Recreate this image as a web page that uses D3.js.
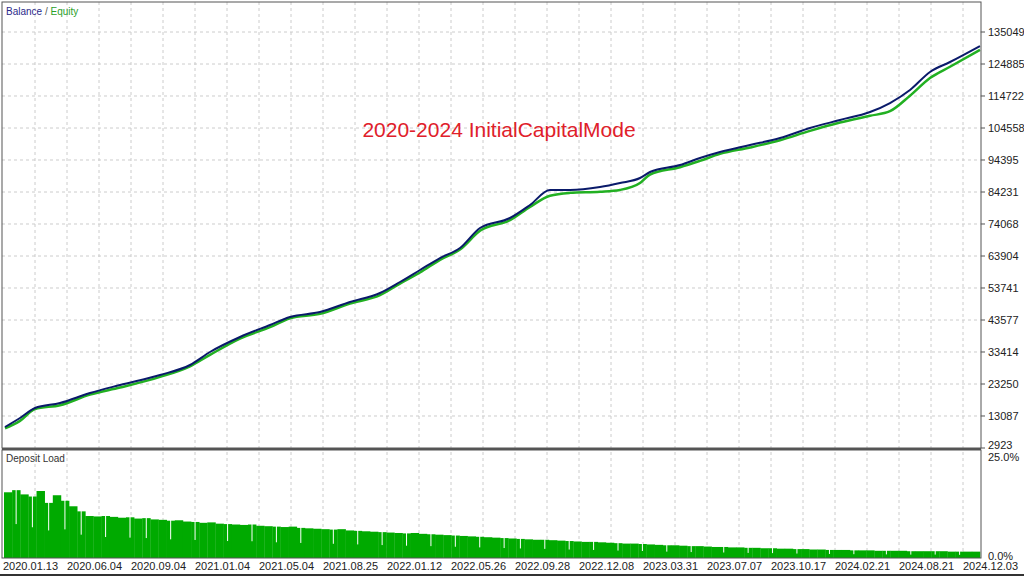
<!DOCTYPE html><html><head><meta charset="utf-8">
<script src="https://cdn.jsdelivr.net/npm/d3@7"></script>
<style>body{margin:0;background:#fff}svg{display:block}text{font-family:"Liberation Sans",sans-serif}</style></head><body>
<svg id="c" width="1024" height="576"></svg>
<script>
const yTicks=[2923,13087,23250,33414,43577,53741,63904,74068,84231,94395,104558,114722,124885,135049];
const dateLabels=["2020.01.13","2020.06.04","2020.09.04","2021.01.04","2021.05.04","2021.08.25","2022.01.12","2022.05.26","2022.09.28","2022.12.08","2023.03.31","2023.07.07","2023.10.17","2024.02.21","2024.08.21","2024.12.03"];
const tradeIdx=[0,15,30,55,85,115,155,185,205,235,265,285,315,345,375,395,415,435,455,475,505,525,545,565,595,615,635,645,675,695,715,745,775,805,835,865,885,905,925,945,975];
const balance=[9593,12451,15627,17215,20391,22932,26108,29284,33413,38177,41988,44529,46117,49293,52151,55645,59456,63267,66443,72795,75971,80100,84864,84864,85817,87087,88675,90581,92804,95027,96932,99156,101379,104555,107096,109637,112495,116624,122341,125517,130598];
const equityDip=[400,900,300,700,500,800,600,400,900,500,700,400,600,500,700,500,800,600,500,900,700,600,1800,900,1500,2200,1600,800,700,900,600,800,700,900,800,1200,2600,1800,1900,1500,1200];
const depositLoad=[15.5,16,15,14.5,15.8,13,14.8,13.5,12.2,11,9.9,9.8,9.9,9.7,9.5,9.6,9.3,9.4,9.1,9,8.8,8.9,8.6,8.5,8.3,8.4,8.1,8,7.9,7.8,7.9,7.6,7.5,7.4,7.3,7.4,7.1,7,6.9,6.8,6.7,6.8,6.5,6.4,6.3,6.2,6.1,6,5.9,5.8,5.9,5.7,5.6,5.5,5.4,5.3,5.2,5.1,5,4.9,4.8,4.7,4.6,4.5,4.4,4.3,4.3,4.2,4.1,4,3.9,3.8,3.8,3.7,3.6,3.5,3.4,3.4,3.3,3.2,3.1,3,3,2.9,2.8,2.8,2.7,2.6,2.6,2.5,2.5,2.4,2.4,2.3,2.3,2.2,2.2,2.1,2.1,2,2,1.9,1.9,1.9,1.8,1.8,1.8,1.7,1.7,1.7,1.7,1.6,1.6,1.6,1.6,1.6,1.5,1.5,1.5,1.5];
const dips=[1,3,5,7,9,12,15,17,20,23,27,30,33,36,40,43,46,49,52,55,58,61,63,66,69,72,75,78,81,84,88,91,94,97,101,104,108,111,114,117];
const loadTicks=["25.0%","0.0%"];

const svg=d3.select("#c");
const L=2,R=981,T=2,B=448,B2T=450,B2B=558;
const x=d3.scaleLinear().domain([0,975]).range([5,980]);
const y=d3.scaleLinear().domain([2923,135049]).range([B,32]);
const g=svg.append("g");
for(let gx=35;gx<R;gx+=32) g.append("line").attr("x1",gx).attr("x2",gx).attr("y1",T).attr("y2",B2B).attr("stroke","#ccc").attr("stroke-dasharray","3,3");
yTicks.slice(1).forEach(v=>g.append("line").attr("x1",L).attr("x2",R).attr("y1",y(v)).attr("y2",y(v)).attr("stroke","#ccc").attr("stroke-dasharray","3,3"));
const eq=balance.map((v,i)=>[tradeIdx[i],v-equityDip[i]]);
svg.append("path").datum(eq).attr("d",d3.line().x(d=>x(d[0])).y(d=>y(d[1])).curve(d3.curveMonotoneX)).attr("fill","none").attr("stroke","#22b022").attr("stroke-width",2.5);
svg.append("path").datum(balance.map((v,i)=>[tradeIdx[i],v])).attr("d",d3.line().x(d=>x(d[0])).y(d=>y(d[1])).curve(d3.curveMonotoneX)).attr("fill","none").attr("stroke","#0a1a6a").attr("stroke-width",2);
const xb=d3.scaleBand().domain(d3.range(depositLoad.length)).range([4,980]).padding(0);
const yl=d3.scaleLinear().domain([0,25]).range([B2B,452]);
svg.append("g").selectAll("rect").data(depositLoad).join("rect").attr("x",(d,i)=>xb(i)).attr("width",xb.bandwidth()+0.3).attr("y",d=>yl(d)).attr("height",d=>B2B-yl(d)).attr("fill","#00aa00");
svg.append("g").selectAll("line").data(dips).join("line").attr("x1",d=>xb(d)+4).attr("x2",d=>xb(d)+4).attr("y1",d=>yl(depositLoad[d])-1).attr("y2",d=>yl(depositLoad[d]*0.5)).attr("stroke","#fff").attr("stroke-width",1);
svg.append("rect").attr("x",L).attr("y",T).attr("width",R-L).attr("height",B-T).attr("fill","none").attr("stroke","#555");
svg.append("line").attr("x1",L).attr("x2",R).attr("y1",B+1).attr("y2",B+1).attr("stroke","#555").attr("stroke-width",2);
svg.append("rect").attr("x",L).attr("y",B2T).attr("width",R-L).attr("height",B2B-B2T).attr("fill","none").attr("stroke","#555");
svg.append("line").attr("x1",0).attr("x2",1024).attr("y1",575).attr("y2",575).attr("stroke","#333").attr("stroke-width",2);
svg.append("g").selectAll("text").data(yTicks).join("text").attr("x",988).attr("y",(d,i)=>i?y(d)+4:y(d)+1).attr("font-size",11).attr("fill","#222").text(d=>d);
svg.append("g").selectAll("line").data(yTicks).join("line").attr("x1",R).attr("x2",R+4).attr("y1",d=>y(d)).attr("y2",d=>y(d)).attr("stroke","#555");
svg.append("g").selectAll("text").data(loadTicks).join("text").attr("x",988).attr("y",(d,i)=>i?560:461).attr("font-size",11).attr("fill","#222").text(d=>d);
svg.append("g").selectAll("text").data(dateLabels).join("text").attr("x",(d,i)=>3+64*i).attr("y",570).attr("font-size",11).attr("fill","#222").text(d=>d);
const t=svg.append("text").attr("x",6).attr("y",15).attr("font-size",10);
t.append("tspan").attr("fill","#2a2a8a").text("Balance");t.append("tspan").attr("fill","#555").text(" / ");t.append("tspan").attr("fill","#2aa02a").text("Equity");
svg.append("text").attr("x",6).attr("y",462).attr("font-size",10).attr("fill","#333").text("Deposit Load");
svg.append("text").attr("x",499).attr("y",137).attr("text-anchor","middle").attr("font-size",21).attr("font-family","Noto Sans").attr("fill","#e0202a").text("2020-2024 InitialCapitalMode");
</script></body></html>
